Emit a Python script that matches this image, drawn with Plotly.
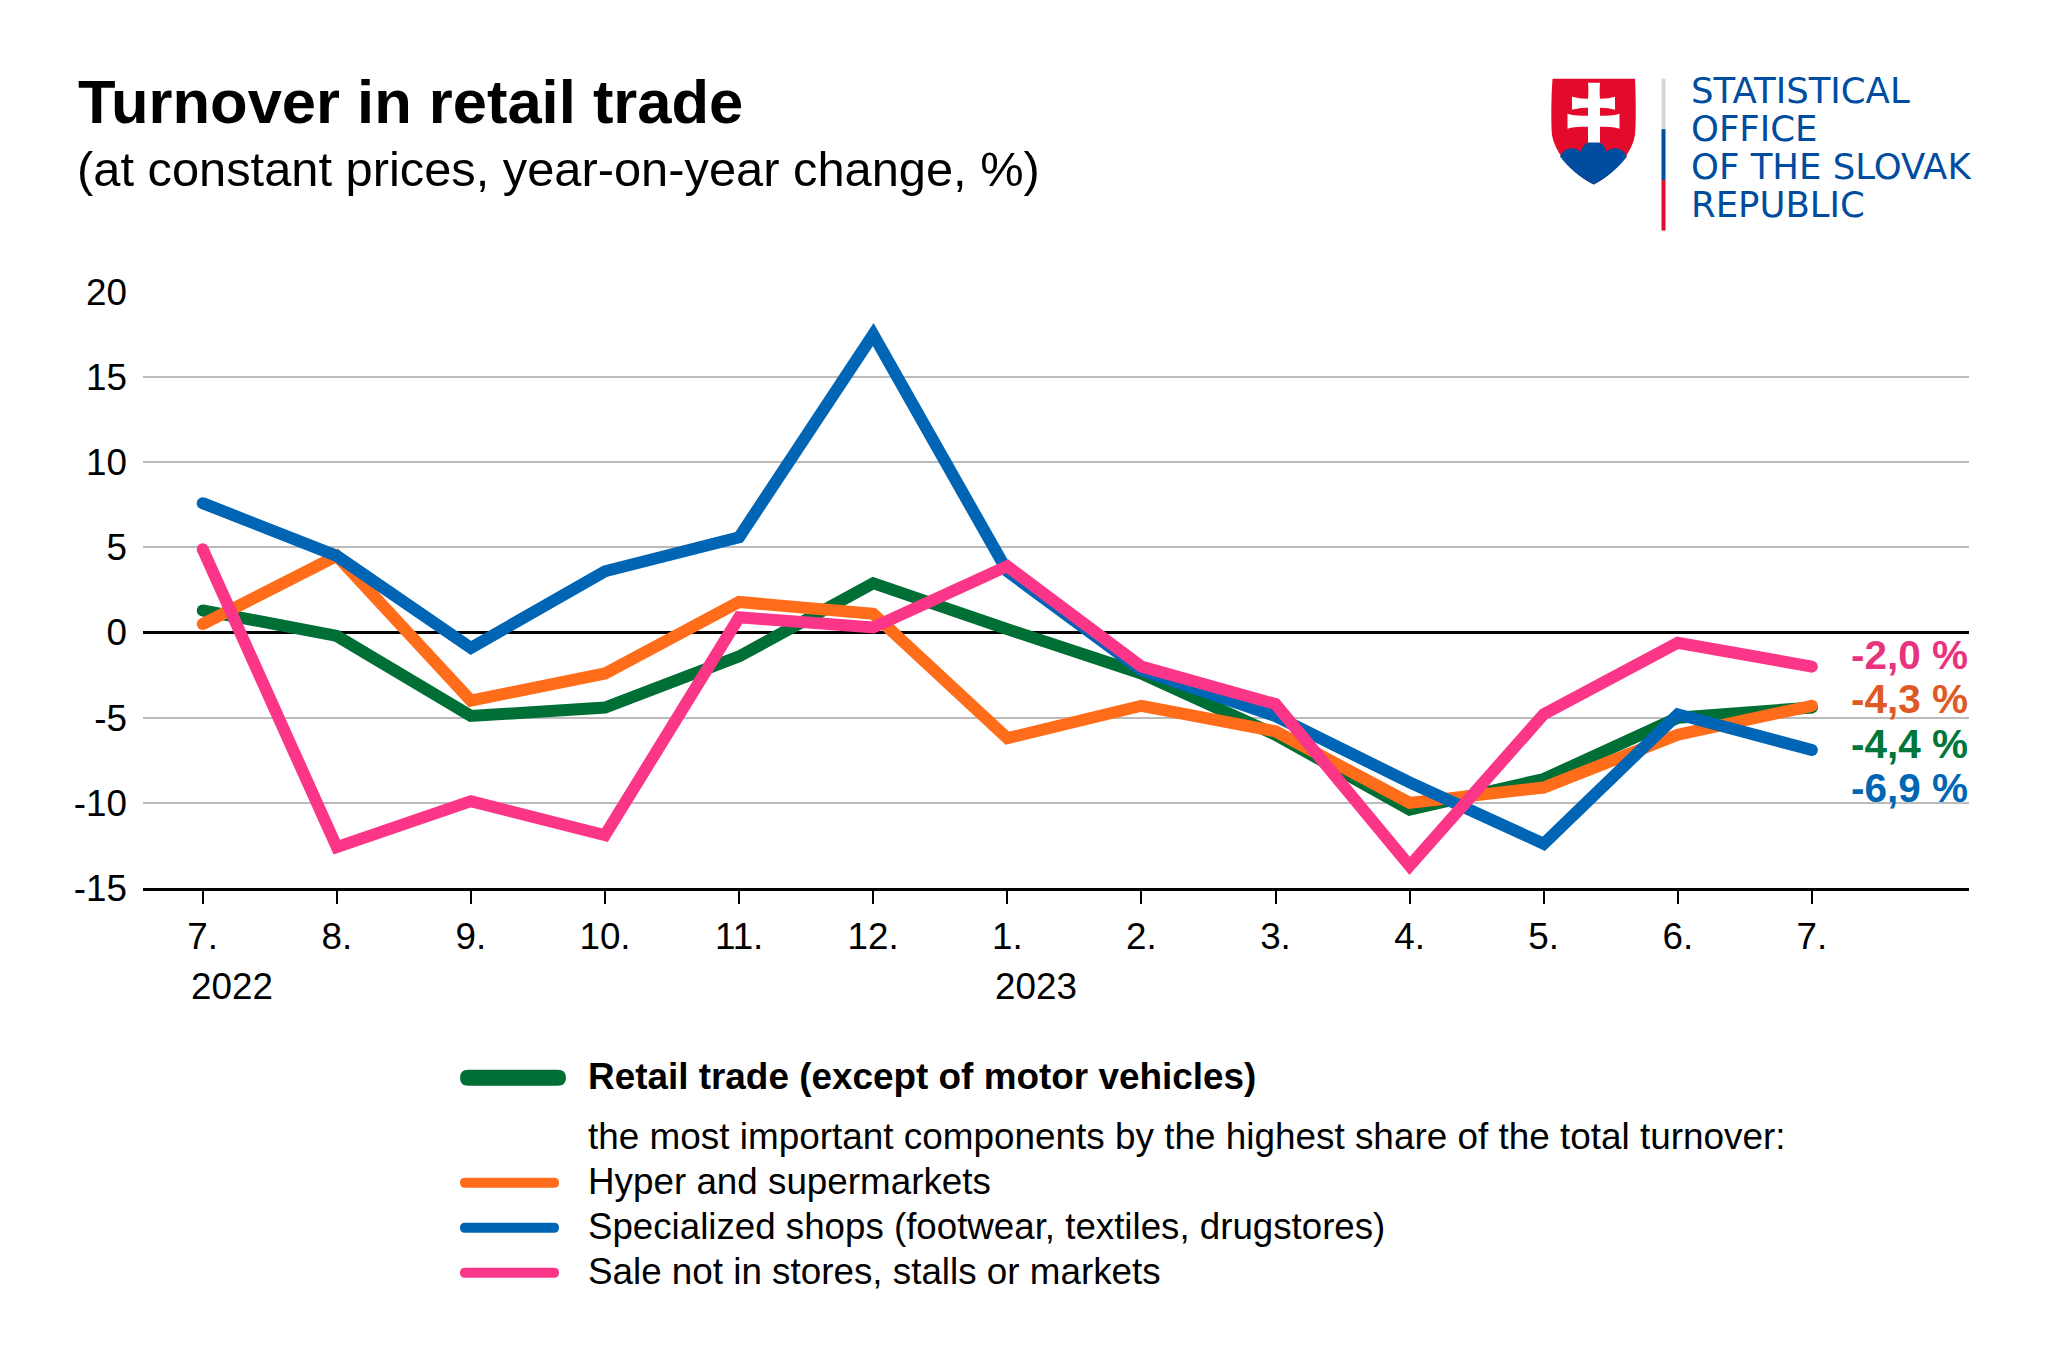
import plotly.graph_objects as go

W, H = 2048, 1365
L, R, T, B = 143, 1969, 291.5, 888
BODY = 8  # the page adds this margin round the figure

months = ["7.", "8.", "9.", "10.", "11.", "12.", "1.", "2.", "3.", "4.", "5.", "6.", "7."]
retail = [1.3, -0.2, -4.9, -4.4, -1.4, 2.9, 0.2, -2.4, -6.0, -10.4, -8.6, -5.0, -4.4]
hyper = [0.5, 4.5, -4.0, -2.4, 1.8, 1.1, -6.2, -4.3, -5.8, -10.0, -9.1, -6.0, -4.3]
special = [7.6, 4.5, -0.9, 3.6, 5.6, 17.5, 3.6, -2.2, -4.9, -8.8, -12.4, -4.8, -6.9]
sale = [4.9, -12.6, -9.9, -11.9, 0.9, 0.3, 3.9, -2.0, -4.2, -13.7, -4.8, -0.6, -2.0]
y_ticks = [-15, -10, -5, 0, 5, 10, 15, 20]
y_tick_labels = ["-15", "-10", "-5", "0", "5", "10", "15", "20"]
names = ["Retail trade (except of motor vehicles)", "Hyper and supermarkets",
         "Specialized shops (footwear, textiles, drugstores)", "Sale not in stores, stalls or markets"]
legend_note = "the most important components by the highest share of the total turnover:"
end_labels = ["-2,0 %", "-4,3 %", "-4,4 %", "-6,9 %"]
title = "Turnover in retail trade"
subtitle = "(at constant prices, year-on-year change, %)"
office = ["STATISTICAL", "OFFICE", "OF THE SLOVAK", "REPUBLIC"]

GREEN, ORANGE, BLUE, PINK = "#006F36", "#FF6D1A", "#0065B5", "#FB3688"
NAVY, RED = "#004DA0", "#E30A2C"
FONT = "Liberation Sans"
LW = 12


def px(x):
    return (x - L) / (R - L)


def py(y):
    return (B - y) / (B - T)


def path(*cmds):
    out = []
    for c in cmds:
        if isinstance(c, str):
            out.append(c)
        else:
            out.append(f"{px(c[0]):.5f},{py(c[1]):.5f}")
    return " ".join(out)


def shape(d, color):
    return dict(type="path", xref="paper", yref="paper", path=d, fillcolor=color,
                line=dict(width=0), layer="above")


def bar(x0, x1, yc, th):
    r = th / 2
    return path("M", (x0 + r, yc - r), "L", (x1 - r, yc - r), "Q", (x1, yc - r), (x1, yc),
                "Q", (x1, yc + r), (x1 - r, yc + r), "L", (x0 + r, yc + r),
                "Q", (x0, yc + r), (x0, yc), "Q", (x0, yc - r), (x0 + r, yc - r), "Z")


def rect(x0, y0, x1, y1):
    return path("M", (x0, y0), "L", (x1, y0), "L", (x1, y1), "L", (x0, y1), "Z")


def text(x, y, s, size, color="#000", bold=False, anchor="left", family=FONT):
    return dict(xref="paper", yref="paper", x=px(x), y=py(y), text=f"<b>{s}</b>" if bold else s,
                showarrow=False, xanchor=anchor, yanchor="middle",
                font=dict(family=family, size=size, color=color), borderpad=0, borderwidth=0)


x_idx = list(range(len(months)))
fig = go.Figure()
for ys, name, col in [(retail, names[0], GREEN), (hyper, names[1], ORANGE),
                      (special, names[2], BLUE), (sale, names[3], PINK)]:
    sizes = [LW] + [0] * (len(ys) - 2) + [LW]
    fig.add_trace(go.Scatter(x=x_idx, y=ys, name=name, mode="lines+markers",
                             line=dict(color=col, width=LW),
                             marker=dict(color=col, size=sizes, opacity=1, line=dict(width=0)),
                             cliponaxis=False, hoverinfo="skip"))

shapes = []
# legend swatches
shapes.append(shape(bar(460, 566, 1078, 16), GREEN))
shapes.append(shape(bar(460, 559, 1183, 10), ORANGE))
shapes.append(shape(bar(460, 559, 1228, 10), BLUE))
shapes.append(shape(bar(460, 559, 1273, 10), PINK))
# logo divider
shapes.append(shape(rect(1661.5, 78, 1665.5, 128.5), "#D4D6D8"))
shapes.append(shape(rect(1661.5, 128.5, 1665.5, 179.5), NAVY))
shapes.append(shape(rect(1661.5, 179.5, 1665.5, 230), RED))
# logo shield
shapes.append(shape(path("M", (1552.5, 78), "L", (1635, 78), "C", (1636, 100), (1636, 125), (1635, 134),
                         "C", (1632, 153), (1614, 173), (1593.7, 184),
                         "C", (1573, 173), (1555, 153), (1552, 134),
                         "C", (1551, 125), (1551, 100), (1552.5, 78), "Z"), RED))
# logo hills
shapes.append(shape(path("M", (1560, 156), "C", (1565, 146), (1574, 146), (1581, 151),
                         "C", (1584, 137), (1604, 137), (1606, 151),
                         "C", (1613, 146), (1622, 146), (1627, 156),
                         "C", (1619, 167), (1607, 177), (1593.7, 184),
                         "C", (1580, 177), (1568, 167), (1560, 156), "Z"), NAVY))
# logo cross
shapes.append(shape(path("M", (1588, 82), "L", (1600, 82), "C", (1599.5, 88), (1599.5, 92), (1600, 98),
                         "C", (1606, 98), (1611, 97), (1615, 96),
                         "L", (1615, 109), "C", (1611, 108), (1606, 107), (1600, 107),
                         "L", (1600, 115), "C", (1607, 115), (1613, 115), (1619.5, 113),
                         "L", (1619.5, 128), "C", (1613, 126), (1607, 126), (1600, 126),
                         "L", (1600, 142), "L", (1588, 142), "L", (1588, 126),
                         "C", (1580, 126), (1574, 126), (1567.5, 128),
                         "L", (1567.5, 113), "C", (1574, 115), (1580, 115), (1588, 115),
                         "L", (1588, 107), "C", (1581, 107), (1577, 108), (1572, 109),
                         "L", (1572, 96), "C", (1577, 97), (1581, 98), (1588, 98),
                         "C", (1588.5, 92), (1588.5, 88), (1588, 82), "Z"), "#FFFFFF"))

annotations = [
    text(78, 100.5, title, 61.5, bold=True),
    text(77, 168.5, subtitle, 48.8),
    text(191, 987, "2022", 36.8),
    text(995, 987, "2023", 36.8),
    text(588, 1077, names[0], 36.9, bold=True),
    text(588, 1137, legend_note, 36.9),
    text(588, 1182, names[1], 36.8),
    text(588, 1227, names[2], 36.7),
    text(588, 1272, names[3], 36.8),
    text(1968, 655, end_labels[0], 40.5, "#E8347F", True, "right"),
    text(1968, 699, end_labels[1], 40.5, "#DE5A24", True, "right"),
    text(1968, 744, end_labels[2], 40.5, "#00763A", True, "right"),
    text(1968, 788, end_labels[3], 40.5, "#0066B3", True, "right"),
]
for s, yc in zip(office, [90, 128, 166, 204]):
    annotations.append(text(1691, yc, s, 35.5, NAVY, family="DejaVu Sans"))

FW, FH = W - 2 * BODY, H - 2 * BODY
fig.update_layout(
    width=FW, height=FH, autosize=False, showlegend=False,
    paper_bgcolor="#FFFFFF", plot_bgcolor="#FFFFFF",
    margin=dict(l=L - BODY, r=FW - (R - BODY), t=T - BODY, b=FH - (B - BODY), pad=0),
    font=dict(family=FONT, size=36.8, color="#000"),
    shapes=shapes, annotations=annotations, hovermode=False,
    xaxis=dict(range=[(L - 202.7) / 134.1, (R - 202.7) / 134.1], tickmode="array",
               tickvals=x_idx, ticktext=months, ticks="outside", ticklen=13, tickwidth=2,
               tickcolor="#000", showline=True, linecolor="#000", linewidth=2.5,
               showgrid=False, zeroline=False, ticklabelstandoff=1,
               tickfont=dict(family=FONT, size=36.8, color="#000")),
    yaxis=dict(range=[-15, 20], tickmode="array", tickvals=y_ticks, ticktext=y_tick_labels, ticks="",
               showgrid=True, gridcolor="#BBBBBB", gridwidth=1.5,
               zeroline=True, zerolinecolor="#000", zerolinewidth=2.5,
               showline=False, ticklabelstandoff=15,
               tickfont=dict(family=FONT, size=36.8, color="#000")),
)
fig.write_html("out.html", config=dict(displayModeBar=False))
